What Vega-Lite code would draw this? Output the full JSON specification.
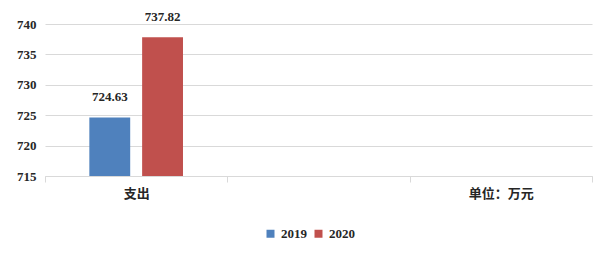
{
  "$schema": "https://vega.github.io/schema/vega-lite/v6.json",
  "autosize": "none",
  "width": 547,
  "height": 152,
  "padding": {"left": 45, "top": 24, "right": 21, "bottom": 90},
  "background": "white",
  "data": {"values": [
    {"category": "支出", "year": "2019", "value": 724.63},
    {"category": "支出", "year": "2020", "value": 737.82}
  ]},
  "encoding": {
    "x": {"field": "category", "type": "nominal",
      "scale": {"domain": ["支出", "_", "单位：万元"], "paddingInner": 0, "paddingOuter": 0},
      "axis": {"title": null, "labelAngle": 0, "labelExpr": "datum.value == '_' ? '' : datum.value",
        "tickBand": "extent", "tickSize": 6, "tickColor": "#d9d9d9", "domainColor": "#d9d9d9",
        "labelPadding": 5, "labelFontSize": 13, "labelFontWeight": "bold", "labelColor": "#262626",
        "labelFont": "'Liberation Serif', 'Noto Sans CJK SC'", "grid": false}},
    "xOffset": {"field": "year", "type": "nominal", "scale": {"paddingInner": 0.226, "paddingOuter": 0.84}},
    "y": {"field": "value", "type": "quantitative",
      "scale": {"domain": [715, 740], "zero": false, "nice": false},
      "axis": {"title": null, "values": [715, 720, 725, 730, 735, 740], "domain": false, "ticks": false,
        "gridColor": "#d9d9d9", "labelPadding": 9, "labelFontSize": 13, "labelFontWeight": "bold",
        "labelColor": "#262626", "labelFont": "'Liberation Serif'"}}
  },
  "layer": [
    {"mark": {"type": "bar"},
     "encoding": {
       "y2": {"datum": 715},
       "color": {"field": "year", "type": "nominal",
         "scale": {"domain": ["2019", "2020"], "range": ["#4F81BD", "#C0504D"]},
         "legend": {"title": null, "orient": "none", "legendX": 219, "legendY": 203, "direction": "horizontal", "symbolType": "square",
           "symbolSize": 64, "symbolStrokeWidth": 0, "labelFontSize": 13, "labelFontWeight": "bold",
           "labelFont": "'Liberation Serif'", "labelColor": "#262626", "columnPadding": 5, "labelOffset": 4}}}},
    {"mark": {"type": "text", "baseline": "bottom", "dy": -13, "fontSize": 13, "fontWeight": "bold",
       "font": "'Liberation Serif'", "color": "#262626"},
     "encoding": {"text": {"field": "value", "type": "quantitative", "format": ".2f"}}}
  ],
  "config": {"view": {"stroke": null}}
}
